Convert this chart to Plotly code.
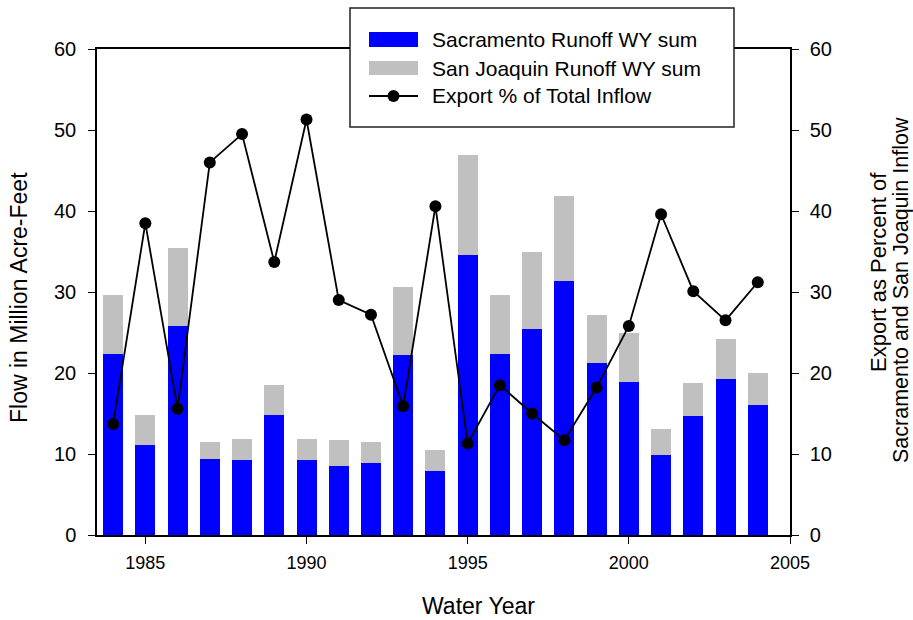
import plotly.graph_objects as go

# Water years and runoff (million acre-feet)
years = list(range(1984, 2005))
sacramento = [22.3, 11.1, 25.8, 9.4, 9.3, 14.8, 9.3, 8.5, 8.9, 22.2, 7.9,
              34.6, 22.3, 25.4, 31.4, 21.2, 18.9, 9.9, 14.7, 19.2, 16.1]
total_runoff = [29.6, 14.8, 35.4, 11.5, 11.8, 18.5, 11.8, 11.7, 11.5, 30.6, 10.5,
                46.9, 29.6, 35.0, 41.9, 27.2, 24.9, 13.1, 18.8, 24.2, 20.0]
san_joaquin = [round(t - s, 2) for t, s in zip(total_runoff, sacramento)]

# Exports as a percent of combined inflow
export_pct = [13.7, 38.5, 15.6, 46.0, 49.5, 33.7, 51.3, 29.0, 27.2, 15.9, 40.6,
              11.3, 18.5, 15.0, 11.7, 18.2, 25.8, 39.6, 30.1, 26.5, 31.2]

x_ticks = [1985, 1990, 1995, 2000, 2005]
y_ticks = [0, 10, 20, 30, 40, 50, 60]

FONT = "Liberation Sans, Arial, sans-serif"
BLUE = "#0000FF"
GRAY = "#C0C0C0"

W, H = 913, 620
L, R, T, B = 97, 123, 49, 85
PW, PH = W - L - R, H - T - B


def px(x):
    return (x - L) / PW


def py(y):
    return (H - B - y) / PH


fig = go.Figure()
fig.add_trace(go.Bar(x=years, y=sacramento, marker_color=BLUE, width=0.62,
                     name="Sacramento Runoff WY sum", marker_line_width=0))
fig.add_trace(go.Bar(x=years, y=san_joaquin, marker_color=GRAY, width=0.62,
                     name="San Joaquin Runoff WY sum", marker_line_width=0))
fig.add_trace(go.Scatter(x=years, y=export_pct, yaxis="y2", mode="lines+markers",
                         line=dict(color="black", width=1.8),
                         marker=dict(color="black", size=12),
                         name="Export % of Total Inflow"))

axis_common = dict(showline=True, linecolor="black", linewidth=1.5,
                   ticks="outside", ticklen=7, tickwidth=1.2, tickcolor="black",
                   showgrid=False, zeroline=False)

fig.update_layout(
    width=W, height=H,
    margin=dict(l=L, r=R, t=T, b=B),
    paper_bgcolor="white", plot_bgcolor="white",
    barmode="stack", showlegend=False,
    font=dict(family=FONT, color="black"),
    xaxis=dict(range=[1983.5, 2005], tickvals=x_ticks, mirror=True,
               tickfont=dict(size=18), ticklabelstandoff=4, **axis_common),
    yaxis=dict(range=[0, 60], tickvals=y_ticks, tickfont=dict(size=20),
               ticklabelstandoff=8, **axis_common),
    yaxis2=dict(range=[0, 60], tickvals=y_ticks, overlaying="y", side="right",
                tickfont=dict(size=20), ticklabelstandoff=7, **axis_common),
)

# Axis titles
fig.add_annotation(text="Water Year", xref="paper", yref="paper",
                   x=px(479), y=py(606), showarrow=False,
                   font=dict(size=23), xanchor="center", yanchor="middle")
fig.add_annotation(text="Flow in Million Acre-Feet", xref="paper", yref="paper",
                   x=px(19), y=py(298), showarrow=False, textangle=-90,
                   font=dict(size=23), xanchor="center", yanchor="middle")
fig.add_annotation(text="Export as Percent of", xref="paper", yref="paper",
                   x=px(878), y=py(272), showarrow=False, textangle=-90,
                   font=dict(size=22), xanchor="center", yanchor="middle")
fig.add_annotation(text="Sacramento and San Joaquin Inflow", xref="paper", yref="paper",
                   x=px(901), y=py(290), showarrow=False, textangle=-90,
                   font=dict(size=21.5), xanchor="center", yanchor="middle")

# Legend box
fig.add_shape(type="rect", xref="paper", yref="paper",
              x0=px(350), x1=px(734), y0=py(127), y1=py(8),
              fillcolor="white", line=dict(color="#222", width=1.5), layer="above")
fig.add_shape(type="rect", xref="paper", yref="paper",
              x0=px(369), x1=px(418), y0=py(47), y1=py(32),
              fillcolor=BLUE, line_width=0, layer="above")
fig.add_shape(type="rect", xref="paper", yref="paper",
              x0=px(369), x1=px(418), y0=py(75), y1=py(61),
              fillcolor=GRAY, line_width=0, layer="above")
fig.add_shape(type="line", xref="paper", yref="paper",
              x0=px(369), x1=px(418), y0=py(96), y1=py(96),
              line=dict(color="black", width=1.8), layer="above")
fig.add_shape(type="circle", xref="paper", yref="paper",
              x0=px(387.5), x1=px(399.5), y0=py(102), y1=py(90),
              fillcolor="black", line_width=0, layer="above")
for label, yc in [("Sacramento Runoff WY sum", 40),
                  ("San Joaquin Runoff WY sum", 68),
                  ("Export % of Total Inflow", 96)]:
    fig.add_annotation(text=label, xref="paper", yref="paper",
                       x=px(430), y=py(yc), showarrow=False,
                       font=dict(size=21), xanchor="left", yanchor="middle")

fig.write_html("out.html")
